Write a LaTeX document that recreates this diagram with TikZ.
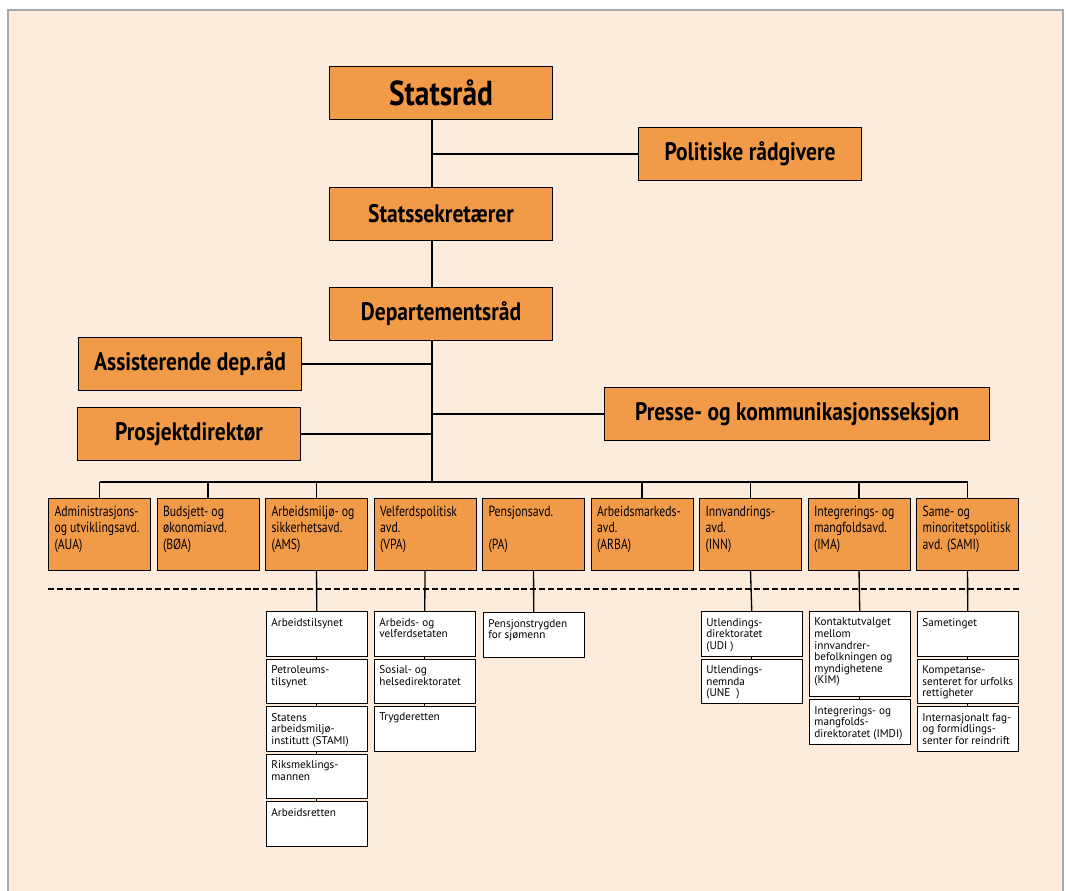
\documentclass[tikz,border=0pt]{standalone}
\usepackage{fontspec}
\setmainfont{PT Sans}
\newfontfamily\headfont{PT Sans}[FakeStretch=0.85]
\newfontfamily\deptfont{PT Sans}[FakeStretch=0.8]
\definecolor{peach}{HTML}{FDEBDB}
\definecolor{boxorange}{HTML}{F19A48}
\definecolor{framegray}{HTML}{A9A9A9}
\newcommand{\depttext}[1]{\parbox[t][43pt][t]{67.5pt}{\raggedright #1}}
\newcommand{\subtext}[2][23.5pt]{\parbox[t][#1][t]{68pt}{\raggedright #2}}

\begin{document}
\begin{tikzpicture}[x=0.75pt, y=-0.75pt,
		headstyle/.style={draw, fill=boxorange, line width=0.8pt, anchor=north west,
			minimum width=167.25pt, minimum height=39.75pt, inner sep=0pt,
			font=\headfont\bfseries\fontsize{19}{22}\selectfont},
		deptstyle/.style={draw, fill=boxorange, line width=0.8pt, anchor=north west,
			inner xsep=4.5pt, inner ysep=5.5pt,
			font=\deptfont\fontsize{11}{12.5}\selectfont},
		subbox/.style={draw, fill=white, line width=0.6pt, anchor=north west,
			inner xsep=3.75pt, inner ysep=5pt,
			font=\fontsize{8.4}{8.7}\selectfont},
		edgestyle/.style={line width=1pt},
		dashstyle/.style={line width=1.3pt, dash pattern=on 4.5pt off 2.2pt}]

	% frame
	\useasboundingbox (0,0) rectangle (1066,891);
	\fill[white] (0,0) rectangle (1066,891);
	\fill[peach] (8,10) rectangle (1063,891);
	\draw[framegray, line width=1.5pt] (8,891) -- (8,10) -- (1063,10) -- (1063,891);

	% top of the hierarchy
	\node[headstyle, font=\headfont\bfseries\fontsize{26}{30}\selectfont] (stat) at (329,66) {Statsråd};
	\node[headstyle] (pol) at (638,127) {Politiske rådgivere};
	\node[headstyle] (sek) at (329,187) {Statssekretærer};
	\node[headstyle] (dep) at (329,287) {Departementsråd};
	\node[headstyle] (ass) at (78,337) {Assisterende dep.råd};
	\node[headstyle] (pro) at (77,407) {Prosjektdirektør};
	\node[headstyle, minimum width=288.75pt] (pre) at (604,387) {Presse- og kommunikasjonsseksjon};

	\coordinate (spine) at (432,0);
	\coordinate (bus) at (432,482);

	\draw[edgestyle] (stat.south -| spine) -- (sek.north -| spine);
	\draw[edgestyle] (sek.south -| spine) -- (dep.north -| spine);
	\draw[edgestyle] (dep.south -| spine) -- (bus);
	\draw[edgestyle] (pol.west -| spine) -- (pol.west);
	\draw[edgestyle] (ass.east) -- (ass.east -| spine);
	\draw[edgestyle] (pro.east) -- (pro.east -| spine);
	\draw[edgestyle] (pre.west -| spine) -- (pre.west);

	% departments
	\foreach \name/\txt [count=\i from 0] in {
		aua/{Administrasjons-\\og utviklingsavd.\\(AUA)},
		boa/{Budsjett- og\\økonomiavd.\\(BØA)},
		ams/{Arbeidsmiljø- og\\sikkerhetsavd.\\(AMS)},
		vpa/{Velferdspolitisk\\avd.\\(VPA)},
		pa/{Pensjonsavd.\\\mbox{}\\(PA)},
		arba/{Arbeidsmarkeds-\\avd.\\(ARBA)},
		inn/{Innvandrings-\\avd.\\(INN)},
		ima/{Integrerings- og\\mangfoldsavd.\\(IMA)},
		sami/{Same- og\\minoritetspolitisk\\avd. (SAMI)}}
	{
		\node[deptstyle] (\name) at ({48+108.5*\i},498) {\depttext{\txt}};
	}

	\draw[edgestyle] (aua.north |- bus) -- (sami.north |- bus);
	\foreach \name in {aua, boa, ams, arba, inn, ima, sami}
	{
		\draw[edgestyle] (\name.north |- bus) -- (\name.north);
	}

	\draw[dashstyle] (48,589) -- (1020,589);

	% subordinate agencies
	\foreach \name/\txt [count=\k from 0] in {
		ams1/{Arbeidstilsynet},
		ams2/{Petroleums-\\tilsynet},
		ams3/{Statens\\arbeidsmiljø-\\institutt (STAMI)},
		ams4/{Riksmeklings-\\mannen},
		ams5/{Arbeidsretten}}
	{
		\node[subbox] (\name) at (266,{611+47.5*\k}) {\subtext{\txt}};
	}
	\foreach \name/\txt [count=\k from 0] in {
		vpa1/{Arbeids- og\\velferdsetaten},
		vpa2/{Sosial- og\\helsedirektoratet},
		vpa3/{Trygderetten}}
	{
		\node[subbox] (\name) at (374,{611+47.5*\k}) {\subtext{\txt}};
	}
	\node[subbox] (pa1) at (483,612) {\subtext{Pensjonstrygden\\for sjømenn}};
	\node[subbox] (inn1) at (701,611) {\subtext{Utlendings-\\direktoratet\\(UDI )}};
	\node[subbox] (inn2) at (701,658.5) {\subtext{Utlendings-\\nemnda\\(UNE\ \ )}};
	\node[subbox] (ima1) at (809,611) {\subtext[53.75pt]{Kontaktutvalget\\mellom\\innvandrer-\\befolkningen og\\myndighetene\\(KIM)}};
	\node[subbox] (ima2) at (809,699) {\subtext{Integrerings- og\\mangfolds-\\direktoratet (IMDI)}};
	\foreach \name/\txt [count=\k from 0] in {
		sami1/{Sametinget},
		sami2/{Kompetanse-\\senteret for urfolks\\rettigheter},
		sami3/{Internasjonalt fag-\\og formidlings-\\senter for reindrift}}
	{
		\node[subbox] (\name) at (917,{611+47.5*\k}) {\subtext{\txt}};
	}

	\foreach \upper/\lower in {ams/ams1, ams1/ams2, ams2/ams3, ams3/ams4, ams4/ams5,
		vpa/vpa1, vpa1/vpa2, vpa2/vpa3, pa/pa1, inn/inn1, inn1/inn2,
		ima/ima1, ima1/ima2, sami/sami1, sami1/sami2, sami2/sami3}
	{
		\draw[edgestyle] (\upper.south) -- (\lower.north);
	}

\end{tikzpicture}
\end{document}
